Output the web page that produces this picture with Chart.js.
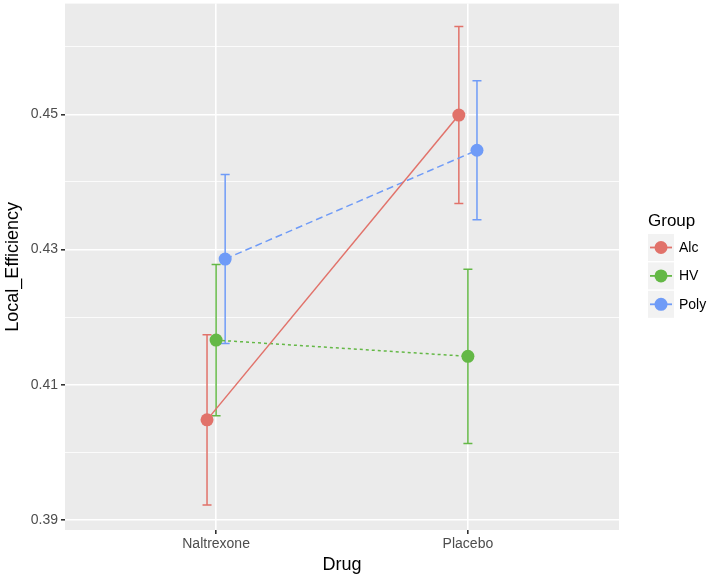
<!DOCTYPE html>
<html>
<head>
<meta charset="utf-8">
<script src="https://cdn.jsdelivr.net/npm/chart.js@4"></script>
<style>
  html, body { margin: 0; padding: 0; background: #fff; }
  canvas { display: block; }
</style>
</head>
<body>
<canvas id="chart" width="709" height="576"></canvas>
<script>
const drugs = ['Naltrexone', 'Placebo']
const groups = ['Alc', 'HV', 'Poly']

// mean and standard error per drug, one pair of arrays per group
const alcMean = [0.4048, 0.4499]
const alcErr = [0.0126, 0.0131]
const hvMean = [0.4166, 0.4142]
const hvErr = [0.0112, 0.0129]
const polyMean = [0.4286, 0.4447]
const polyErr = [0.0125, 0.0103]

const yTicks = [0.39, 0.41, 0.43, 0.45]
const yMinor = [0.40, 0.42, 0.44, 0.46]
const yTickLabels = ['0.39', '0.41', '0.43', '0.45']

const COLORS = {
  Alc: '#e1726a',
  HV: '#64b846',
  Poly: '#6f9bf7',
}
const DASHES = {
  Alc: [],
  HV: [3, 3],
  Poly: [7, 4],
}

const FONT = "'Liberation Sans', Arial, sans-serif"
const DODGE = 0.036

const means = [alcMean, hvMean, polyMean]
const errs = [alcErr, hvErr, polyErr]

function makeDataset(g) {
  const name = groups[g]
  const offset = (g - 1) * DODGE
  return {
    label: name,
    data: drugs.map((d, i) => ({ x: i + 1 + offset, y: means[g][i], err: errs[g][i] })),
    borderColor: COLORS[name],
    backgroundColor: COLORS[name],
    borderWidth: 1.5,
    borderDash: DASHES[name],
    pointRadius: 6.5,
    pointHoverRadius: 6.5,
    pointBorderWidth: 0,
    fill: false,
  }
}

// grey panel behind the grid
const panelBg = {
  id: 'panelBg',
  beforeDraw(chart) {
    const { ctx, chartArea: a } = chart
    ctx.save()
    ctx.fillStyle = '#ebebeb'
    ctx.fillRect(a.left, a.top, a.right - a.left, a.bottom - a.top)
    ctx.restore()
  },
}

// error bars under the lines and points
const errorBars = {
  id: 'errorBars',
  beforeDatasetsDraw(chart) {
    const { ctx, scales } = chart
    ctx.save()
    ctx.lineWidth = 1.5
    chart.data.datasets.forEach((ds) => {
      ctx.strokeStyle = ds.borderColor
      ds.data.forEach((p) => {
        const x = scales.x.getPixelForValue(p.x)
        const yTop = scales.y.getPixelForValue(p.y + p.err)
        const yBot = scales.y.getPixelForValue(p.y - p.err)
        ctx.beginPath()
        ctx.moveTo(x, yTop)
        ctx.lineTo(x, yBot)
        ctx.moveTo(x - 4.5, yTop)
        ctx.lineTo(x + 4.5, yTop)
        ctx.moveTo(x - 4.5, yBot)
        ctx.lineTo(x + 4.5, yBot)
        ctx.stroke()
      })
    })
    ctx.restore()
  },
}

// ggplot style legend on the right
const groupLegend = {
  id: 'groupLegend',
  afterDraw(chart) {
    const { ctx } = chart
    const left = 648
    ctx.save()
    ctx.fillStyle = '#000'
    ctx.font = '17px ' + FONT
    ctx.textBaseline = 'middle'
    ctx.fillText('Group', left, 221)
    chart.data.datasets.forEach((ds, i) => {
      const top = 234 + i * 28.4
      const cy = top + 13.5
      ctx.fillStyle = '#f2f2f2'
      ctx.fillRect(left, top, 26, 27)
      ctx.strokeStyle = ds.borderColor
      ctx.lineWidth = 1.8
      ctx.beginPath()
      ctx.moveTo(left + 2, cy)
      ctx.lineTo(left + 24, cy)
      ctx.stroke()
      ctx.fillStyle = ds.backgroundColor
      ctx.beginPath()
      ctx.arc(left + 13, cy, 6.5, 0, Math.PI * 2)
      ctx.fill()
      ctx.fillStyle = '#000'
      ctx.font = '14px ' + FONT
      ctx.fillText(ds.label, 679, cy + 0.5)
    })
    ctx.restore()
  },
}

const isMajor = (v) => yTicks.some((t) => Math.abs(t - v) < 1e-9)

new Chart(document.getElementById('chart').getContext('2d'), {
  type: 'line',
  data: { datasets: groups.map((g, i) => makeDataset(i)) },
  options: {
    responsive: false,
    animation: false,
    devicePixelRatio: 1,
    layout: { autoPadding: false, padding: { top: 2, right: 90, bottom: 0, left: 0 } },
    plugins: {
      legend: { display: false },
      tooltip: { enabled: false },
    },
    scales: {
      x: {
        type: 'linear',
        min: 0.4,
        max: 2.6,
        afterBuildTicks(scale) {
          scale.ticks = drugs.map((d, i) => ({ value: i + 1 }))
        },
        afterFit(scale) {
          scale.height = 46
        },
        border: { display: false },
        grid: {
          color: '#ffffff',
          lineWidth: 1.6,
          tickLength: 4,
          tickColor: '#333333',
        },
        ticks: {
          padding: 2,
          color: '#4d4d4d',
          font: { family: FONT, size: 14 },
          callback: (v) => drugs[Math.round(v) - 1],
        },
        title: {
          display: true,
          text: 'Drug',
          color: '#000',
          font: { family: FONT, size: 18 },
          padding: 0,
        },
      },
      y: {
        min: 0.3885,
        max: 0.4664,
        afterBuildTicks(scale) {
          scale.ticks = yTicks.concat(yMinor).sort((a, b) => a - b).map((v) => ({ value: v }))
        },
        afterFit(scale) {
          scale.width = 65
        },
        border: { display: false },
        grid: {
          color: '#ffffff',
          lineWidth: (c) => (isMajor(c.tick.value) ? 1.6 : 0.8),
          tickLength: 4,
          tickColor: (c) => (isMajor(c.tick.value) ? '#333333' : 'rgba(0,0,0,0)'),
        },
        ticks: {
          padding: 3,
          color: '#4d4d4d',
          // minor ticks carry no label, keep them from reserving space
          font: (c) => ({ family: FONT, size: c.tick && isMajor(c.tick.value) ? 14 : 1 }),
          callback: (v) => {
            const i = yTicks.findIndex((t) => Math.abs(t - v) < 1e-9)
            return i >= 0 ? yTickLabels[i] : ''
          },
        },
        title: {
          display: true,
          text: 'Local_Efficiency',
          color: '#000',
          font: { family: FONT, size: 18 },
          padding: { top: 2, bottom: 0 },
        },
      },
    },
  },
  plugins: [panelBg, errorBars, groupLegend],
})
</script>
</body>
</html>
